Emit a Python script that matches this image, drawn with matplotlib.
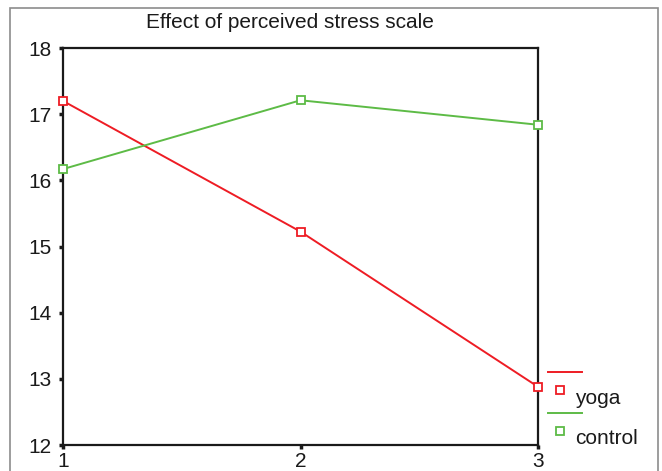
import matplotlib
matplotlib.use("Agg")
import matplotlib.pyplot as plt
from matplotlib.lines import Line2D
from matplotlib.patches import Rectangle

plt.rcParams['font.family'] = ['Liberation Sans', 'DejaVu Sans']

# data
sessions = [1, 2, 3]
yoga = [17.20, 15.225, 12.88]
control = [16.17, 17.21, 16.84]
red = '#ee1c24'
green = '#5dbb46'

fig = plt.figure(figsize=(6.62, 4.71), dpi=100)
# grey frame around the whole chart
fig.patches.append(Rectangle((10/662, -0.05), 648/662, 1 - 8/471 + 0.05,
                             transform=fig.transFigure, fill=False,
                             edgecolor='#8c8c8c', linewidth=1.2))

ax = fig.add_axes([63/662, 1 - 445/471, 475/662, 397/471])
ax.plot(sessions, yoga, color=red, lw=1.4, marker='s', ms=6.3,
        mfc='white', mec=red, mew=1.3, clip_on=False, zorder=3)
ax.plot(sessions, control, color=green, lw=1.4, marker='s', ms=6.3,
        mfc='white', mec=green, mew=1.3, clip_on=False, zorder=3)

ax.set_xlim(1, 3)
ax.set_ylim(12, 18)
ax.set_xticks(sessions)
ax.set_yticks([12, 13, 14, 15, 16, 17, 18])
for s in ax.spines.values():
    s.set_linewidth(1.6)
    s.set_color('#1a1a1a')
ax.tick_params(axis='both', direction='out', length=3, width=2.5,
               labelsize=15, colors='#1a1a1a')
ax.tick_params(axis='y', pad=5)
ax.tick_params(axis='x', pad=2)

fig.text(290/662, 1 - 22/471, 'Effect of perceived stress scale',
         ha='center', va='center', fontsize=15, color='#1a1a1a')

# legend drawn by hand to match the layout
def leg(y_line, y_mark, y_text, col, label):
    fig.add_artist(Line2D([548/662, 582/662], [1 - y_line/471] * 2,
                          color=col, lw=1.4, transform=fig.transFigure))
    fig.add_artist(Line2D([560/662], [1 - y_mark/471], marker='s', ms=5.3,
                          mfc='white', mec=col, mew=1.3, ls='none',
                          transform=fig.transFigure))
    fig.text(575/662, 1 - y_text/471, label, ha='left', va='center',
             fontsize=15, color='#1a1a1a')

leg(372, 390, 399, red, 'yoga')
leg(413, 431, 439, green, 'control')

fig.savefig('out.png', dpi=100)
